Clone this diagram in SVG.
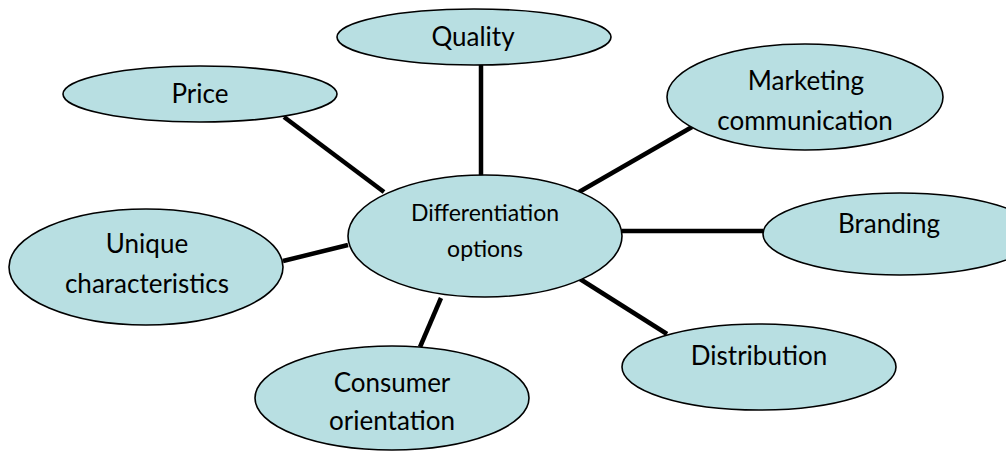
<svg xmlns="http://www.w3.org/2000/svg" width="1006" height="453" viewBox="0 0 1006 453">
<style>
.node ellipse{fill:#B8DFE2;stroke:#000;stroke-width:1.6}
.node text{font-family:Lato,"Liberation Sans",sans-serif;font-size:26px;fill:#000;text-anchor:middle}
#center text{font-size:23px}
#connectors line{stroke:#000;stroke-width:4.5}
</style>
<rect width="1006" height="453" fill="#fff"/>
<g id="connectors">
<line x1="481" y1="65" x2="481" y2="177"/>
<line x1="284" y1="117" x2="384" y2="192"/>
<line x1="692" y1="127" x2="579" y2="192"/>
<line x1="622" y1="231" x2="763" y2="231"/>
<line x1="283" y1="261" x2="348" y2="245"/>
<line x1="580" y1="279" x2="667" y2="334"/>
<line x1="441" y1="298" x2="420" y2="347"/>
</g>
<g id="quality" class="node"><ellipse cx="474" cy="37" rx="137" ry="28"/><text x="473" y="46">Quality</text></g>
<g id="price" class="node"><ellipse cx="200" cy="94" rx="137" ry="28"/><text x="200" y="103">Price</text></g>
<g id="marketing" class="node"><ellipse cx="805" cy="97" rx="138" ry="53"/><text x="806" y="90">Marketing</text><text x="805" y="130">communication</text></g>
<g id="center" class="node"><ellipse cx="485" cy="236" rx="137" ry="61"/><text x="485" y="221">Differentiation</text><text x="485" y="257">options</text></g>
<g id="branding" class="node"><ellipse cx="900" cy="234" rx="137" ry="41"/><text x="889" y="233">Branding</text></g>
<g id="unique" class="node"><ellipse cx="146" cy="267" rx="137" ry="58"/><text x="147" y="253">Unique</text><text x="147" y="293">characteristics</text></g>
<g id="distribution" class="node"><ellipse cx="759" cy="367" rx="137" ry="43"/><text x="759" y="365">Distribution</text></g>
<g id="consumer" class="node"><ellipse cx="392" cy="398" rx="137" ry="52"/><text x="392" y="392">Consumer</text><text x="392" y="430">orientation</text></g>
</svg>
